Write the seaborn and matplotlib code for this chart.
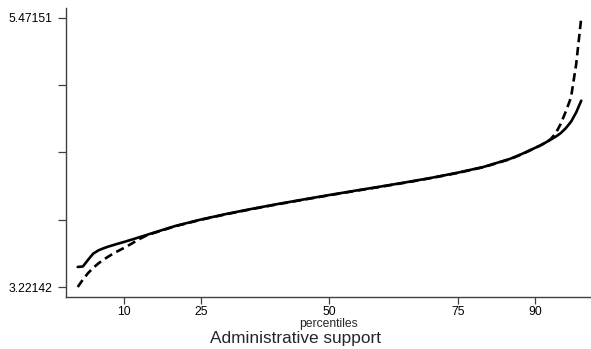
import matplotlib
matplotlib.use("Agg")
import matplotlib.pyplot as plt
import seaborn as sns
import pandas as pd

# Percentile grid and the two quantile curves (log wage scale)
percentiles = [1, 2, 3, 4, 5, 6, 7, 8, 9, 10, 11, 12, 13, 14, 15, 20, 25, 30,
               35, 40, 45, 50, 55, 60, 65, 70, 75, 80, 85, 86, 87, 88, 89, 90,
               91, 92, 93, 94, 95, 96, 97, 98, 99]
solid_values = [3.389, 3.393, 3.448, 3.500, 3.527, 3.545, 3.560, 3.573, 3.586,
                3.598, 3.611, 3.624, 3.638, 3.651, 3.665, 3.732, 3.786, 3.833,
                3.876, 3.916, 3.954, 3.991, 4.027, 4.062, 4.098, 4.136, 4.178,
                4.226, 4.291, 4.308, 4.326, 4.345, 4.365, 4.385, 4.405, 4.428,
                4.453, 4.478, 4.508, 4.550, 4.603, 4.680, 4.780]
dashed_values = [3.22142, 3.283, 3.337, 3.381, 3.418, 3.449, 3.477, 3.503, 3.526,
                 3.548, 3.572, 3.597, 3.622, 3.644, 3.662, 3.730, 3.784, 3.831,
                 3.874, 3.914, 3.952, 3.989, 4.025, 4.060, 4.096, 4.134, 4.176,
                 4.224, 4.289, 4.306, 4.324, 4.343, 4.363, 4.384, 4.404, 4.428,
                 4.456, 4.505, 4.585, 4.690, 4.805, 5.080, 5.47151]

x_ticks = [10, 25, 50, 75, 90]
y_min, y_max = 3.22142, 5.47151
y_tick_labels = ["3.22142", "", "", "", "5.47151"]
x_label = "percentiles"
title = "Administrative support"

sns.set_style("ticks")
plt.rcParams["font.family"] = ["Liberation Sans", "DejaVu Sans"]

df = pd.DataFrame({"p": percentiles, "solid": solid_values, "dashed": dashed_values})

fig = plt.figure(figsize=(5.91, 3.49), dpi=100)
ax = fig.add_axes([66 / 591, 1 - 297 / 349, 1 - 66 / 591, (297 - 8) / 349])

sns.lineplot(data=df, x="p", y="solid", ax=ax, color="black", linewidth=1.9)
sns.lineplot(data=df, x="p", y="dashed", ax=ax, color="black", linewidth=1.9,
             linestyle=(0, (3.2, 1.8)))

ax.set_xlim(-1.28, 100.9)
ax.set_ylim(3.1378, 5.555)

step = (y_max - y_min) / 4
ax.set_yticks([y_min + i * step for i in range(5)])
ax.set_yticklabels(y_tick_labels)
ax.set_xticks(x_ticks)
ax.set_xticklabels([str(t) for t in x_ticks])

spine_color = "#404040"
for side in ["top", "right"]:
    ax.spines[side].set_visible(False)
for side in ["left", "bottom"]:
    ax.spines[side].set_color(spine_color)
    ax.spines[side].set_linewidth(1.0)

ax.tick_params(axis="y", length=6, width=0.9, pad=4, labelsize=8.7, colors=spine_color,
               labelcolor="black")
ax.tick_params(axis="x", length=5, width=0.9, pad=1.5, labelsize=8.7, colors=spine_color,
               labelcolor="black")

ax.set_xlabel(x_label, fontsize=8.7, labelpad=0)
ax.set_ylabel("")

fig.text(295.5 / 591, 1 - 338 / 349, title, ha="center", va="center", fontsize=12.4)

fig.savefig("out.png", dpi=100)
